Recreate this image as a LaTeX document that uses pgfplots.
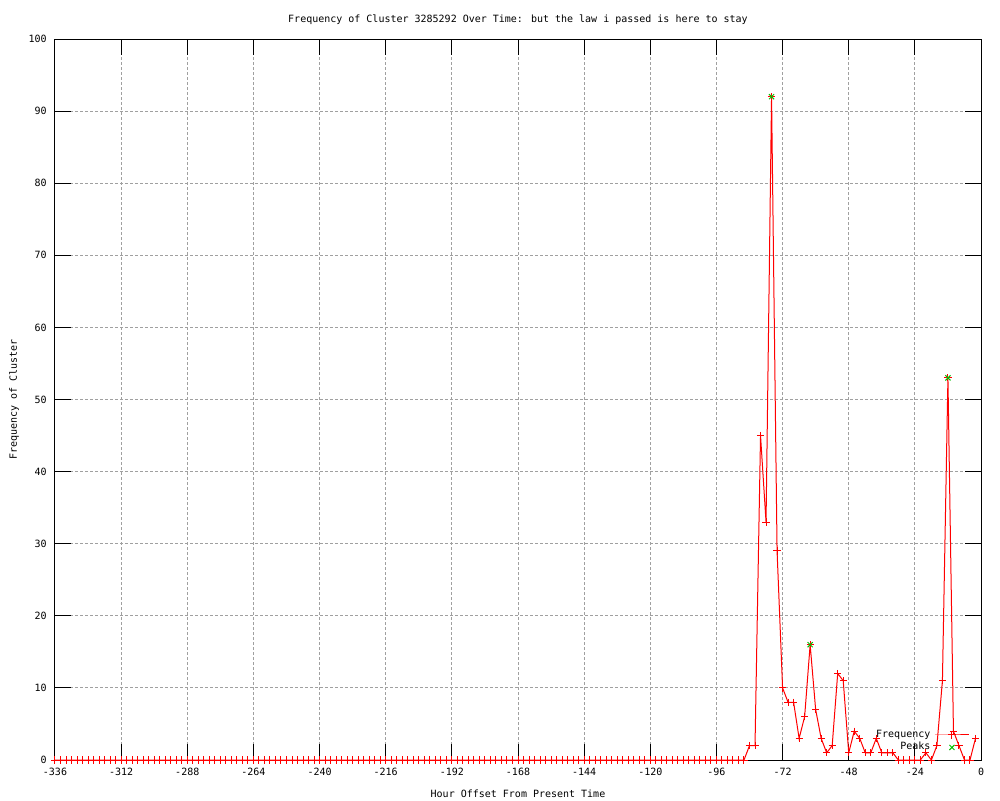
\documentclass[border=0pt]{standalone}
\usepackage{pgfplots}
\pgfplotsset{compat=1.18}
\usepackage{fontspec}
\setmainfont{DejaVu Sans Mono}
\definecolor{gpred}{RGB}{255,0,0}
\definecolor{gpgreen}{RGB}{0,192,0}
\definecolor{gpgrid}{RGB}{160,160,160}
\begin{document}
\begin{tikzpicture}[font=\fontsize{5pt}{6pt}\selectfont]
\useasboundingbox (-27.5pt,-20pt) rectangle (472.5pt,380pt);
\begin{axis}[
  at={(0,0)}, anchor=south west,
  scale only axis, width=463pt, height=360.5pt,
  xmin=-336, xmax=0, ymin=0, ymax=100,
  xtick={-336,-312,...,0}, ytick={0,10,...,100},
  grid=major,
  major grid style={gpgrid, line width=0.5pt, dash pattern=on 1.5pt off 1pt},
  axis line style={black, line width=0.5pt},
  major tick length=8pt,
  tick style={black, line width=0.5pt},
  tick align=inside,
  /pgf/number format/assume math mode=true,
  ticklabel style={font=\fontsize{5pt}{6pt}\selectfont},
  xticklabel style={inner sep=0pt, yshift=-4pt},
  yticklabel style={inner sep=0pt, xshift=-4pt},
  title={Frequency of Cluster 3285292 Over Time: but the law i passed is here to stay},
  title style={anchor=base, at={(axis description cs:0.5,1)}, yshift=2.5pt, inner sep=0pt},
  xlabel={Hour Offset From Present Time},
  xlabel style={anchor=base, at={(axis description cs:0.5,0)}, yshift=-18.5pt, inner sep=0pt},
  ylabel={Frequency of Cluster},
  ylabel style={anchor=base, at={(axis description cs:0,0.5)}, rotate=0, xshift=0pt, yshift=19pt, inner sep=0pt},
  legend style={at={(0.988,0.004)}, anchor=south east, draw=none, fill=none,
    legend cell align=right, inner sep=0pt, row sep=-3pt,
    font=\fontsize{5pt}{6pt}\selectfont},
  legend plot pos=right,
]
\addplot[gpred, line width=0.5pt, mark=+, mark size=1.8pt, mark options={solid, line width=0.5pt}] coordinates {
(-336,0)(-334,0)(-332,0)(-330,0)(-328,0)(-326,0)(-324,0)(-322,0)(-320,0)(-318,0)
(-316,0)(-314,0)(-312,0)(-310,0)(-308,0)(-306,0)(-304,0)(-302,0)(-300,0)(-298,0)
(-296,0)(-294,0)(-292,0)(-290,0)(-288,0)(-286,0)(-284,0)(-282,0)(-280,0)(-278,0)
(-276,0)(-274,0)(-272,0)(-270,0)(-268,0)(-266,0)(-264,0)(-262,0)(-260,0)(-258,0)
(-256,0)(-254,0)(-252,0)(-250,0)(-248,0)(-246,0)(-244,0)(-242,0)(-240,0)(-238,0)
(-236,0)(-234,0)(-232,0)(-230,0)(-228,0)(-226,0)(-224,0)(-222,0)(-220,0)(-218,0)
(-216,0)(-214,0)(-212,0)(-210,0)(-208,0)(-206,0)(-204,0)(-202,0)(-200,0)(-198,0)
(-196,0)(-194,0)(-192,0)(-190,0)(-188,0)(-186,0)(-184,0)(-182,0)(-180,0)(-178,0)
(-176,0)(-174,0)(-172,0)(-170,0)(-168,0)(-166,0)(-164,0)(-162,0)(-160,0)(-158,0)
(-156,0)(-154,0)(-152,0)(-150,0)(-148,0)(-146,0)(-144,0)(-142,0)(-140,0)(-138,0)
(-136,0)(-134,0)(-132,0)(-130,0)(-128,0)(-126,0)(-124,0)(-122,0)(-120,0)(-118,0)
(-116,0)(-114,0)(-112,0)(-110,0)(-108,0)(-106,0)(-104,0)(-102,0)(-100,0)(-98,0)
(-96,0)(-94,0)(-92,0)(-90,0)(-88,0)(-86,0)
(-84,2)(-82,2)(-80,45)(-78,33)(-76,92)(-74,29)(-72,10)(-70,8)(-68,8)(-66,3)
(-64,6)(-62,16)(-60,7)(-58,3)(-56,1)(-54,2)(-52,12)(-50,11)(-48,1)(-46,4)
(-44,3)(-42,1)(-40,1)(-38,3)(-36,1)(-34,1)(-32,1)(-30,0)(-28,0)(-26,0)
(-24,0)(-22,0)(-20,1)(-18,0)(-16,2)(-14,11)(-12,53)(-10,4)(-8,2)(-6,0)
(-4,0)(-2,3)
};
\addlegendentry{Frequency}
\addplot[only marks, gpgreen, mark=x, mark size=1.8pt, mark options={solid, line width=0.5pt}] coordinates {
(-76,92)(-62,16)(-12,53)
};
\addlegendentry{Peaks}
\end{axis}
\end{tikzpicture}
\end{document}
